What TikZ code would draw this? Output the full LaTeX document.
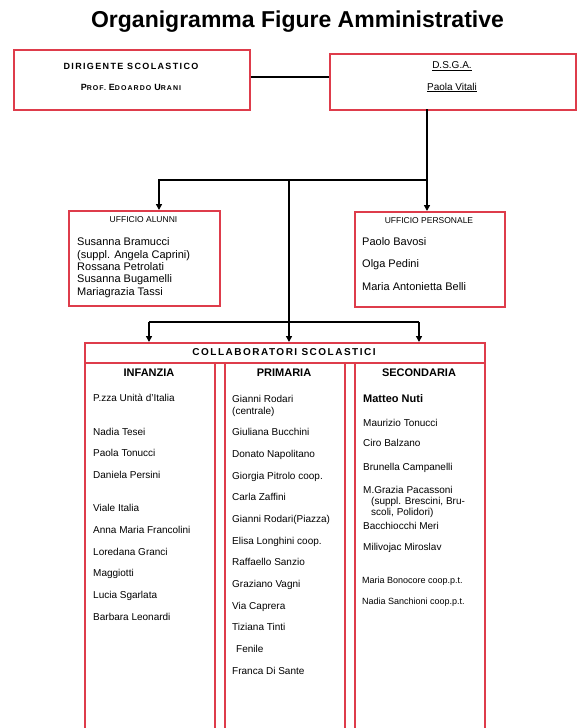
\documentclass[tikz,border=0pt]{standalone}
\usepackage{fontspec}
\setmainfont{Liberation Sans}
\newfontfamily\spacedfont[LetterSpace=15]{Liberation Sans}
\usetikzlibrary{arrows.meta}
\definecolor{boxred}{RGB}{222,60,75}
\newcommand{\fsz}[1]{\fontsize{#1}{#1}\selectfont}
\tikzset{
  box/.style={draw=boxred, line width=1.5pt, fill=white, inner sep=0pt, anchor=north west},
  conn/.style={draw=black, line width=1.7pt},
  arr/.style={conn, -{Triangle[length=6pt,width=6pt]}},
  item/.style={inner sep=0pt, anchor=base west, font=\fsz{10}},
  oitem/.style={inner sep=0pt, anchor=base west, font=\fsz{11}},
  small/.style={inner sep=0pt, anchor=base west, font=\fsz{9}},
  head/.style={inner sep=0pt, anchor=base, font=\bfseries\fsz{11}},
  ctr/.style={inner sep=0pt, anchor=base},
}
\begin{document}
\begin{tikzpicture}[x=1pt,y=-1pt]
\useasboundingbox (0,0) rectangle (586,728);
\fill[white] (0,0) rectangle (586,728);

% boxes
\node[box, minimum width=236pt, minimum height=60pt] (dir) at (13,49) {};
\node[box, minimum width=246pt, minimum height=56pt] (dsga) at (329,53) {};
\node[box, minimum width=151pt, minimum height=95pt] (alunni) at (68,210) {};
\node[box, minimum width=150pt, minimum height=95pt] (pers) at (354,211) {};
\node[box, minimum width=400pt, minimum height=20pt] (collab) at (84,342) {};
\node[box, minimum width=130pt, minimum height=390pt] (colinf) at (84,362) {};
\node[box, minimum width=120pt, minimum height=390pt] (colpri) at (224,362) {};
\node[box, minimum width=130pt, minimum height=390pt] (colsec) at (354,362) {};

% title
\node[ctr, font=\bfseries\fsz{23}] (title) at (297.5,27.3) {Organigramma Figure Amministrative};

\node[ctr, font=\spacedfont\bfseries\fsz{9}] (dirT) at (131,69.3) {DIRIGENTE SCOLASTICO};
\node[ctr, font=\spacedfont\bfseries] (dirN) at (131,90) {\fsz{9}P\fsz{7}ROF. \fsz{9}E\fsz{7}DOARDO \fsz{9}U\fsz{7}RANI};
\node[ctr, font=\fsz{10}] (dsgaT) at (452,68.3) {\underline{D.S.G.A.}};
\node[ctr, font=\fsz{10}] (dsgaN) at (452,90) {\underline{Paola Vitali}};

\node[ctr, font=\fsz{8.5}] (alT) at (143.5,222.7) {UFFICIO ALUNNI};
\node[oitem] (al1) at (77,245.5) {Susanna Bramucci};
\node[oitem] (al2) at (77,258) {(suppl. Angela Caprini)};
\node[oitem] (al3) at (77,270.3) {Rossana Petrolati};
\node[oitem] (al4) at (77,282.7) {Susanna Bugamelli};
\node[oitem] (al5) at (77,295) {Mariagrazia Tassi};

\node[ctr, font=\fsz{8.5}] (peT) at (429,223.3) {UFFICIO PERSONALE};
\node[oitem] (pe1) at (362,245.7) {Paolo Bavosi};
\node[oitem] (pe2) at (362,267.3) {Olga Pedini};
\node[oitem] (pe3) at (362,290.7) {Maria Antonietta Belli};

\node[ctr, font=\spacedfont\bfseries\fsz{10}] (coT) at (284,355.7) {COLLABORATORI SCOLASTICI};
\node[head] (hInf) at (149,376) {INFANZIA};
\node[head] (hPri) at (284,376) {PRIMARIA};
\node[head] (hSec) at (419,376) {SECONDARIA};

% infanzia
\node[item] (i1) at (93,401.7) {P.zza Unità d'Italia};
\node[item] (i2) at (93,435.3) {Nadia Tesei};
\node[item] (i3) at (93,456.7) {Paola Tonucci};
\node[item] (i4) at (93,478.5) {Daniela Persini};
\node[item] (i5) at (93,511.7) {Viale Italia};
\node[item] (i6) at (93,533.3) {Anna Maria Francolini};
\node[item] (i7) at (93,555) {Loredana Granci};
\node[item] (i8) at (93,576.7) {Maggiotti};
\node[item] (i9) at (93,598.5) {Lucia Sgarlata};
\node[item] (i10) at (93,620.3) {Barbara Leonardi};

% primaria
\node[item] (p1) at (232,402) {Gianni Rodari};
\node[item] (p1b) at (232,414) {(centrale)};
\node[item] (p2) at (232,435.7) {Giuliana Bucchini};
\node[item] (p3) at (232,457) {Donato Napolitano};
\node[item] (p4) at (232,479) {Giorgia Pitrolo coop.};
\node[item] (p5) at (232,500.7) {Carla Zaffini};
\node[item] (p6) at (232,522.3) {Gianni Rodari(Piazza)};
\node[item] (p7) at (232,544) {Elisa Longhini coop.};
\node[item] (p8) at (232,565.7) {Raffaello Sanzio};
\node[item] (p9) at (232,587.3) {Graziano Vagni};
\node[item] (p10) at (232,609) {Via Caprera};
\node[item] (p11) at (232,630.7) {Tiziana Tinti};
\node[item] (p12) at (236,652.3) {Fenile};
\node[item] (p13) at (232,674) {Franca Di Sante};

% secondaria
\node[item, font=\bfseries\fsz{11}] (s1) at (363,402.7) {Matteo Nuti};
\node[item] (s2) at (363,426) {Maurizio Tonucci};
\node[item] (s3) at (363,446.7) {Ciro Balzano};
\node[item] (s4) at (363,470.7) {Brunella Campanelli};
\node[item] (s5) at (363,493.3) {M.Grazia Pacassoni};
\node[item] (s5b) at (371,504.3) {(suppl. Brescini, Bru-};
\node[item] (s5c) at (371,515.3) {scoli, Polidori)};
\node[item] (s6) at (363,529) {Bacchiocchi Meri};
\node[item] (s7) at (363,550) {Milivojac Miroslav};
\node[small] (s8) at (362,583.3) {Maria Bonocore coop.p.t.};
\node[small] (s9) at (362,604.3) {Nadia Sanchioni coop.p.t.};

% connectors
\coordinate (dsgaout) at (427,109);
\coordinate (busR) at (427,180);
\coordinate (busL) at (159,180);
\coordinate (busA) at (289,180);
\coordinate (busB) at (289,322);
\coordinate (busBL) at (149,322);
\coordinate (busBR) at (419,322);

\draw[conn] (dir.east |- 0,77) -- (dsga.west |- 0,77);
\draw[arr] (dsgaout) -- (dsgaout |- pers.north);
\draw[arr] (busR) -| (alunni.north -| busL);
\draw[conn] (busA) -- (busB);
\draw[conn] (busBL) -- (busBR);
\draw[arr] (busBL) -- (busBL |- collab.north);
\draw[arr] (busB) -- (busB |- collab.north);
\draw[arr] (busBR) -- (busBR |- collab.north);
\end{tikzpicture}
\end{document}
